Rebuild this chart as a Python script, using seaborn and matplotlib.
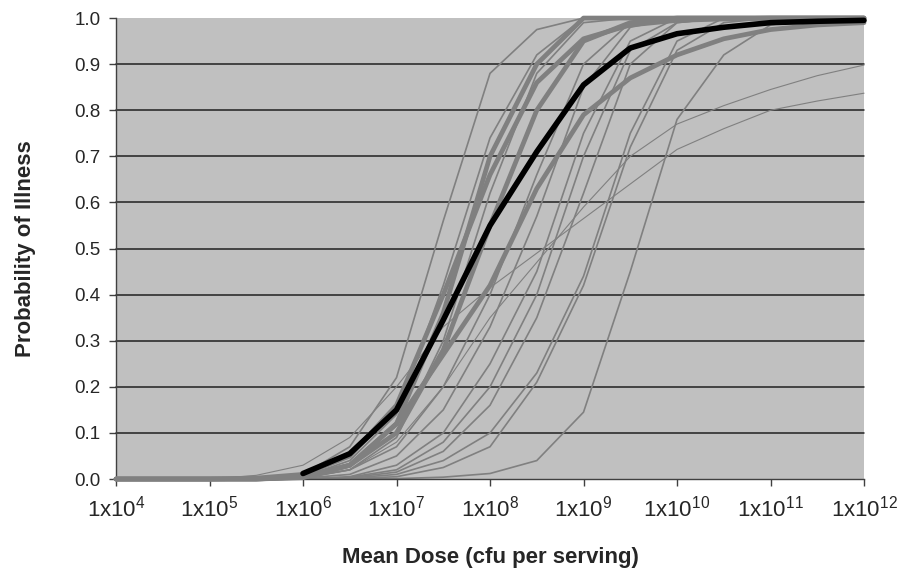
import numpy as np
import matplotlib
matplotlib.use("Agg")
import matplotlib.pyplot as plt
import seaborn as sns

log_dose = [4.0, 4.5, 5.0, 5.5, 6.0, 6.5, 7.0, 7.5, 8.0, 8.5,
            9.0, 9.5, 10.0, 10.5, 11.0, 11.5, 12.0]

# mean dose-response curve (black), only drawn from ~1e6 upward
mean_curve = [np.nan, np.nan, np.nan, np.nan, 0.012, 0.055, 0.15, 0.345, 0.55, 0.71,
              0.855, 0.935, 0.966, 0.98, 0.99, 0.993, 0.995]

# heavier grey curves
thick_curves = [
    [0, 0, 0, 0.002, 0.01, 0.05, 0.16, 0.40, 0.66, 0.86, 0.955, 0.985, 0.995, 0.998, 1, 1, 1],
    [0, 0, 0, 0, 0.005, 0.03, 0.12, 0.36, 0.70, 0.90, 1.0, 1.0, 1, 1, 1, 1, 1],
    [0, 0, 0, 0, 0.003, 0.03, 0.12, 0.27, 0.42, 0.63, 0.79, 0.87, 0.92, 0.955, 0.975, 0.985, 0.99],
    [0, 0, 0, 0, 0.004, 0.03, 0.10, 0.28, 0.55, 0.80, 0.95, 0.99, 1, 1, 1, 1, 1],
]

# thin grey curves
thin_curves = [
    [0, 0, 0, 0, 0.01, 0.07, 0.22, 0.56, 0.88, 0.975, 1, 1, 1, 1, 1, 1, 1],
    [0, 0, 0, 0, 0.005, 0.04, 0.14, 0.42, 0.74, 0.92, 1, 1, 1, 1, 1, 1, 1],
    [0, 0, 0, 0, 0.002, 0.02, 0.09, 0.30, 0.62, 0.88, 0.99, 1, 1, 1, 1, 1, 1],
    [0, 0, 0, 0, 0.003, 0.02, 0.07, 0.20, 0.40, 0.66, 0.90, 0.99, 1, 1, 1, 1, 1],
    [0, 0, 0, 0, 0.002, 0.01, 0.05, 0.15, 0.33, 0.57, 0.85, 0.98, 1, 1, 1, 1, 1],
    [0, 0, 0, 0, 0, 0.005, 0.03, 0.10, 0.25, 0.45, 0.75, 0.95, 1, 1, 1, 1, 1],
    [0, 0, 0, 0, 0, 0.004, 0.02, 0.08, 0.20, 0.40, 0.70, 0.93, 0.99, 1, 1, 1, 1],
    [0, 0, 0, 0, 0, 0.003, 0.015, 0.06, 0.16, 0.35, 0.62, 0.90, 0.99, 1, 1, 1, 1],
    [0, 0, 0, 0, 0, 0, 0.001, 0.004, 0.012, 0.04, 0.145, 0.45, 0.78, 0.92, 0.985, 1, 1],
    [0, 0, 0, 0, 0, 0.002, 0.01, 0.04, 0.10, 0.23, 0.44, 0.75, 0.95, 1.0, 1, 1, 1],
    [0, 0, 0, 0, 0, 0.001, 0.005, 0.025, 0.07, 0.21, 0.42, 0.72, 0.93, 0.99, 1, 1, 1],
]

# very thin, shallow curves
shallow_curves = [
    [0, 0, 0, 0, 0.002, 0.02, 0.08, 0.20, 0.35, 0.47, 0.59, 0.70, 0.77, 0.81, 0.845, 0.875, 0.898],
    [0, 0, 0, 0.008, 0.03, 0.09, 0.20, 0.33, 0.415, 0.49, 0.565, 0.64, 0.715, 0.76, 0.80, 0.82, 0.837],
]

x_ticks = [4, 5, 6, 7, 8, 9, 10, 11, 12]
y_ticks = [0.0, 0.1, 0.2, 0.3, 0.4, 0.5, 0.6, 0.7, 0.8, 0.9, 1.0]

sns.set_style("white", {"axes.facecolor": "#c0c0c0"})
plt.rcParams["font.family"] = ["Liberation Sans", "DejaVu Sans"]
plt.rcParams["mathtext.fontset"] = "custom"
plt.rcParams["mathtext.rm"] = "Liberation Sans"
plt.rcParams["mathtext.it"] = "Liberation Sans"

dose = 10.0 ** np.array(log_dose)

fig = plt.figure(figsize=(9.02, 5.73), dpi=100)
ax = fig.add_axes([0.1286, 0.164, 0.8293, 0.8045])

for y in y_ticks[1:-1]:
    ax.axhline(y, color="#202020", lw=1.1, zorder=1)

for vals in shallow_curves:
    sns.lineplot(x=dose, y=vals, ax=ax, color="#808080", lw=0.8, zorder=2)
for vals in thin_curves:
    sns.lineplot(x=dose, y=vals, ax=ax, color="#808080", lw=1.2, zorder=2)
for vals in thick_curves:
    sns.lineplot(x=dose, y=vals, ax=ax, color="#808080", lw=3.4, zorder=3)
sns.lineplot(x=dose, y=mean_curve, ax=ax, color="black", lw=4.0, zorder=4)

for ln in ax.get_lines():
    ln.set_clip_on(False)

ax.set_xscale("log")
ax.set_xlim(1e4, 1e12)
ax.set_ylim(0, 1)
ax.set_xticks([10.0 ** e for e in x_ticks])
ax.set_xticklabels([r"1x10$^{%d}$" % e for e in x_ticks], fontsize=16)
ax.xaxis.set_minor_locator(matplotlib.ticker.NullLocator())
ax.set_yticks(y_ticks)
ax.set_yticklabels(["%.1f" % v for v in y_ticks], fontsize=13.5)

for side in ("top", "right"):
    ax.spines[side].set_visible(False)
for side in ("left", "bottom"):
    ax.spines[side].set_color("#404040")
    ax.spines[side].set_linewidth(1.0)
ax.tick_params(axis="both", which="major", length=5, width=1.0, color="#404040",
               direction="out", bottom=True, left=True)
ax.tick_params(axis="x", pad=7)
ax.tick_params(axis="y", pad=6)

ax.set_xlabel("Mean Dose (cfu per serving)", fontsize=16, fontweight="bold", labelpad=18)
ax.set_ylabel("Probability of Illness", fontsize=16, fontweight="bold", labelpad=28)

fig.savefig("out.png", dpi=100)
